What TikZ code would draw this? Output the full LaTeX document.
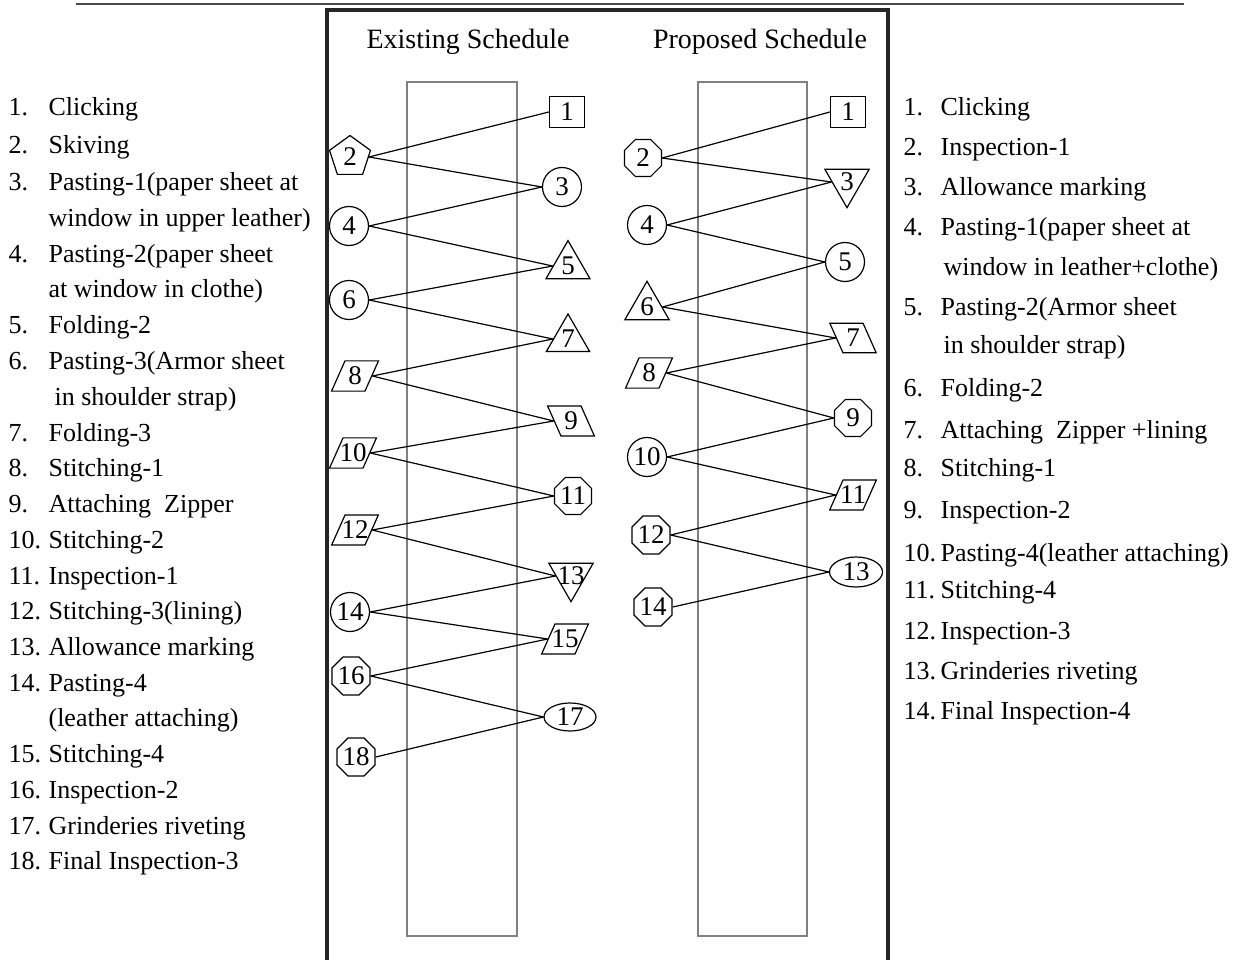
\documentclass[tikz,border=0pt]{standalone}
\usepackage{fontspec}
\setmainfont{Liberation Serif}
\usetikzlibrary{shapes.geometric}
\newcommand{\opfont}{\fontsize{27}{27}\selectfont}
\newcommand{\listfont}{\fontsize{26}{30}\selectfont}
\newcommand{\headfont}{\fontsize{28}{30}\selectfont}
\newcommand{\opnum}[1]{\makebox[0pt]{#1}}
\begin{document}
\begin{tikzpicture}[x=1pt, y=-1pt, line width=1.2pt,
op node/.style={draw, inner sep=0pt, font=\opfont},
sq node/.style={op node, rectangle, minimum width=35, minimum height=31},
circ node/.style={op node, circle, minimum size=39},
pent node/.style={op node, regular polygon, regular polygon sides=5, minimum size=43},
tri node/.style={op node, regular polygon, regular polygon sides=3, minimum size=50},
itri node/.style={tri node, shape border rotate=180},
oct node/.style={op node, regular polygon, regular polygon sides=8, minimum size=40},
ell node/.style={op node, ellipse, minimum width=52, minimum height=28},
par node/.style={op node, trapezium, inner xsep=10pt, inner ysep=6pt},
lpar node/.style={par node, trapezium left angle=66, trapezium right angle=114},
rpar node/.style={par node, trapezium left angle=114, trapezium right angle=66},
list num/.style={anchor=base west, inner sep=0pt, font=\listfont},
list txt/.style={anchor=base west, inner sep=0pt, font=\listfont}]
\useasboundingbox (0,0) rectangle (1256,960);

% frame and columns
\draw[line width=2pt, black!70] (76,4) -- (1184,4);
\draw[line width=4pt, black!85] (327,965) -- (327,10) -- (888,10) -- (888,965);
\draw[gray, line width=1.5pt] (407,82) rectangle (517,936);
\draw[gray, line width=1.5pt] (698,82) rectangle (807,936);
\node[font=\headfont] (hex) at (468,42) {Existing Schedule};
\node[font=\headfont] (hpr) at (760,42) {Proposed Schedule};

\begin{scope}
\node[sq node] (e1) at (567,112) {1};
\node[pent node] (e2) at (350,157) {2};
\node[circ node] (e3) at (562,187) {3};
\node[circ node] (e4) at (349,226) {4};
\node[tri node] (e5) at (568,266) {\opnum{5}};
\node[circ node] (e6) at (349,300) {6};
\node[tri node] (e7) at (568,339) {\opnum{7}};
\node[lpar node] (e8) at (355,376) {\opnum{8}};
\node[rpar node] (e9) at (571,421) {\opnum{9}};
\node[lpar node] (e10) at (353,453) {\opnum{10}};
\node[oct node] (e11) at (573,496) {11};
\node[lpar node] (e12) at (355,530) {\opnum{12}};
\node[itri node] (e13) at (571,576) {\opnum{13}};
\node[circ node] (e14) at (350,612) {14};
\node[lpar node] (e15) at (565,639) {\opnum{15}};
\node[oct node] (e16) at (351,676) {16};
\node[ell node] (e17) at (570,717) {17};
\node[oct node] (e18) at (356,757) {18};
\foreach \a/\b in {2/1,2/3,4/3,4/5,6/5,6/7,8/7,8/9,10/9,10/11,12/11,12/13,14/13,14/15,16/15,16/17,18/17}
  \draw (e\a.east) -- (e\b.west);
\end{scope}

\begin{scope}
\node[sq node] (p1) at (848,112) {1};
\node[oct node] (p2) at (643,158) {2};
\node[itri node] (p3) at (847,182) {\opnum{3}};
\node[circ node] (p4) at (647,225) {4};
\node[circ node] (p5) at (845,262) {5};
\node[tri node] (p6) at (647,307) {\opnum{6}};
\node[rpar node] (p7) at (853,338) {\opnum{7}};
\node[lpar node] (p8) at (649,373) {\opnum{8}};
\node[oct node] (p9) at (853,418) {9};
\node[circ node] (p10) at (647,457) {10};
\node[lpar node] (p11) at (853,495) {\opnum{11}};
\node[oct node] (p12) at (651,535) {12};
\node[ell node, minimum width=53, minimum height=30] (p13) at (856,572) {13};
\node[oct node] (p14) at (653,607) {14};
\foreach \a/\b in {2/1,2/3,4/3,4/5,6/5,6/7,8/7,8/9,10/9,10/11,12/11,12/13,14/13}
  \draw (p\a.east) -- (p\b.west);
\end{scope}

% operation lists
\foreach \n/\y/\t [count=\i] in {1./108/Clicking, 2./146/Skiving, 3./183/Pasting-1(paper sheet at, /219/window in upper leather), 4./254/Pasting-2(paper sheet, /290/at window in clothe), 5./325/Folding-2, 6./361/Pasting-3(Armor sheet, /397/\hspace{6pt}in shoulder strap), 7./433/Folding-3, 8./468/Stitching-1, 9./504/Attaching~~Zipper, 10./540/Stitching-2, 11./576/Inspection-1, 12./611/Stitching-3(lining), 13./647/Allowance marking, 14./683/Pasting-4, /718/(leather attaching), 15./754/Stitching-4, 16./790/Inspection-2, 17./826/Grinderies riveting, 18./861/Final Inspection-3}{
  \node[list num] (lnum\i) at (8,\y+8) {\n};
  \node[list txt] (ltxt\i) at (48,\y+8) {\t};
}
\foreach \n/\y/\t [count=\i] in {1./108/Clicking, 2./148/Inspection-1, 3./188/Allowance marking, 4./228/Pasting-1(paper sheet at, /268/\hspace{3pt}window in leather+clothe), 5./308/Pasting-2(Armor sheet, /345/\hspace{3pt}in shoulder strap), 6./388/Folding-2, 7./430/Attaching~~Zipper +lining, 8./468/Stitching-1, 9./510/Inspection-2, 10./553/Pasting-4(leather attaching), 11./590/Stitching-4, 12./631/Inspection-3, 13./671/Grinderies riveting, 14./711/Final Inspection-4}{
  \node[list num] (rnum\i) at (903,\y+8) {\n};
  \node[list txt] (rtxt\i) at (940,\y+8) {\t};
}
\end{tikzpicture}
\end{document}
